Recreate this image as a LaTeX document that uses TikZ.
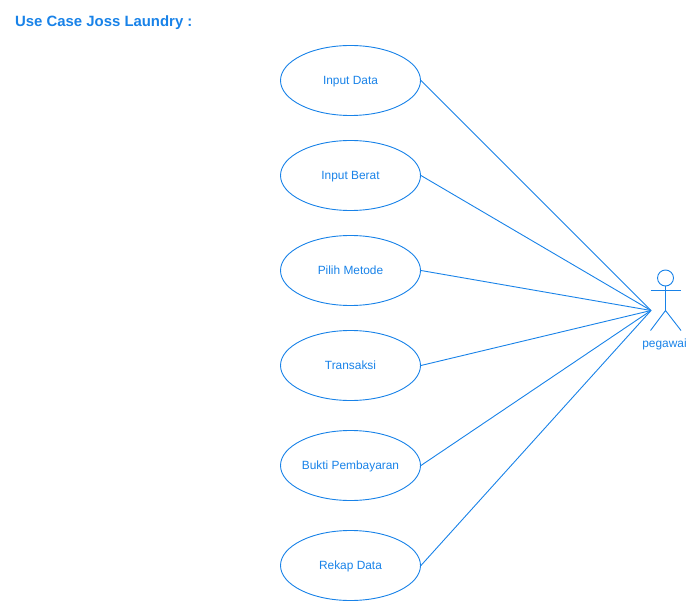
\documentclass[tikz,border=0pt]{standalone}
\usepackage{fontspec}
\setmainfont{Liberation Sans}
\usetikzlibrary{positioning,shapes.geometric}
\definecolor{birugaris}{RGB}{24,130,232}
\tikzset{
    usecase/.style = {draw=birugaris, line width=0.9pt, ellipse, minimum width=140pt, minimum height=70pt, inner sep=0pt, text=birugaris, text height=9pt, text depth=0.5pt, font=\fontsize{11.9}{14}\selectfont},
    garis/.style = {draw=birugaris, line width=0.9pt}
}
\begin{document}
\begin{tikzpicture} [x = 1pt, y = -1pt]
    \useasboundingbox (0,0) rectangle (698,612);
    \node[anchor=west, inner sep=0pt, text=birugaris, font=\fontsize{14.9}{16}\selectfont\bfseries] (judul) at (15,23) {Use Case Joss Laundry :};
    % use case
    \node[usecase] (input) at (350.5,80.5) {Input Data};
    \node[usecase] (berat) at (350.5,175.5) {Input Berat};
    \node[usecase] (metode) at (350.5,270.5) {Pilih Metode};
    \node[usecase] (transaksi) at (350.5,365.5) {Transaksi};
    \node[usecase] (bukti) at (350.5,465.5) {Bukti Pembayaran};
    \node[usecase] (rekap) at (350.5,565.5) {Rekap Data};
    % aktor
    \coordinate (pinggul) at (665.5,310.5);
    \coordinate (kaki kiri) at (650.5,330.5);
    \coordinate (kaki kanan) at (681,330.5);
    \coordinate (tangan kiri) at (650.5,290);
    \coordinate (tangan kanan) at (681,290);
    \coordinate (temu) at (651,310.5);
    \node[circle, draw=birugaris, line width=0.9pt, minimum size=16pt, inner sep=0pt] (kepala) at (665.5,278) {};
    \draw[garis] (kepala.south) -- (pinggul);
    \draw[garis] (tangan kiri) -- (tangan kanan);
    \draw[garis] (kaki kiri) -- (pinggul) -- (kaki kanan);
    \node[text=birugaris, font=\fontsize{11.9}{14}\selectfont] (pegawai) at (664.5,344) {pegawai};
    % garis ke aktor
    \foreach \n in {input,berat,metode,transaksi,bukti,rekap}
        \draw[garis] (\n.east) -- (temu);
\end{tikzpicture}
\end{document}
